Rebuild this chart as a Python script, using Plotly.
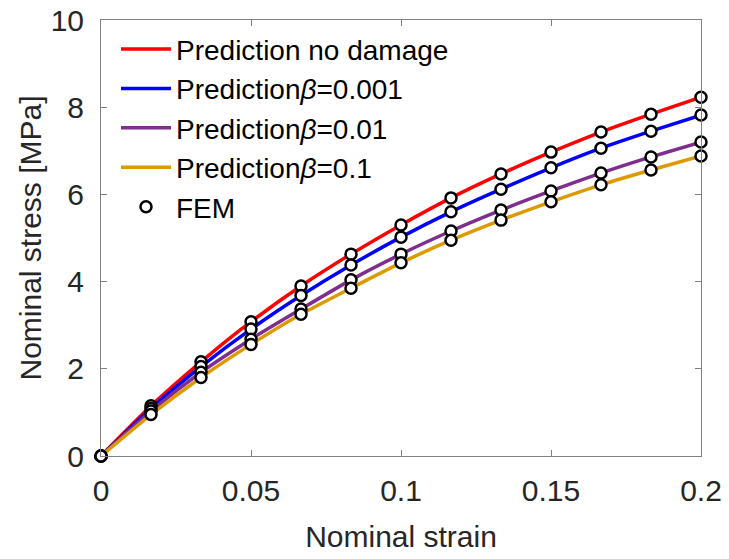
import plotly.graph_objects as go

strain = [0, 1/60, 2/60, 3/60, 4/60, 5/60, 6/60, 7/60, 8/60, 9/60, 10/60, 11/60, 12/60]

stress_no_damage = [0, 1.15, 2.16, 3.08, 3.90, 4.63, 5.30, 5.92, 6.47, 6.97, 7.43, 7.84, 8.23]
stress_b0001 = [0, 1.09, 2.05, 2.91, 3.68, 4.38, 5.02, 5.60, 6.12, 6.61, 7.06, 7.45, 7.82]
stress_b001 = [0, 1.03, 1.92, 2.68, 3.37, 4.04, 4.63, 5.16, 5.64, 6.08, 6.49, 6.86, 7.20]
stress_b01 = [0, 0.95, 1.80, 2.56, 3.25, 3.85, 4.43, 4.95, 5.41, 5.83, 6.22, 6.56, 6.88]

series_names = ["Prediction no damage", "Prediction<i>\u03b2</i>=0.001",
                "Prediction<i>\u03b2</i>=0.01", "Prediction<i>\u03b2</i>=0.1"]
series_colors = ["#ff0000", "#0000ff", "#7e2f8e", "#dd9a00"]
series_values = [stress_no_damage, stress_b0001, stress_b001, stress_b01]

x_ticks = [0, 0.05, 0.1, 0.15, 0.2]
x_tick_labels = ["0", "0.05", "0.1", "0.15", "0.2"]
y_ticks = [0, 2, 4, 6, 8, 10]
y_tick_labels = ["0", "2", "4", "6", "8", "10"]

FONT = "Liberation Sans, Arial, sans-serif"
AXC = "#262626"

fig = go.Figure()
for name, color, vals in zip(series_names, series_colors, series_values):
    fig.add_trace(go.Scatter(
        x=strain, y=vals, mode="lines", name=name,
        line=dict(color=color, width=3.5, shape="spline", smoothing=0.6),
    ))

for i, vals in enumerate(series_values):
    fig.add_trace(go.Scatter(
        x=strain, y=vals, mode="markers", name="FEM",
        showlegend=(i == 0), legendgroup="fem",
        marker=dict(symbol="circle", size=11, color="white",
                    line=dict(color="black", width=2.5)),
        cliponaxis=False,
    ))

axis_common = dict(
    showline=True, linecolor="#808080", linewidth=1, mirror="ticks",
    ticks="inside", ticklen=6, tickcolor="#808080", tickwidth=1,
    showgrid=False, zeroline=False, automargin=False,
    ticklabeloverflow="allow",
    tickfont=dict(family=FONT, size=30, color=AXC),
    title_font=dict(family=FONT, size=30, color=AXC),
)

fig.update_xaxes(
    range=[0, 0.2], tickvals=x_ticks, ticktext=x_tick_labels,
    title_text="Nominal strain", ticklabelstandoff=8, title_standoff=19,
    **axis_common,
)
fig.update_yaxes(
    range=[0, 10], tickvals=y_ticks, ticktext=y_tick_labels,
    title_text="Nominal stress [MPa]", ticklabelstandoff=10, title_standoff=0,
    **axis_common,
)

fig.update_layout(
    width=721, height=551,
    margin=dict(l=93, r=28, t=12, b=103),
    paper_bgcolor="white", plot_bgcolor="white",
    showlegend=True,
    legend=dict(
        x=0.025, y=0.99, xanchor="left", yanchor="top",
        bgcolor="rgba(255,255,255,0)", borderwidth=0,
        font=dict(family=FONT, size=28, color="black"),
        itemwidth=50, tracegroupgap=0,
    ),
)

fig.write_html("out.html")
